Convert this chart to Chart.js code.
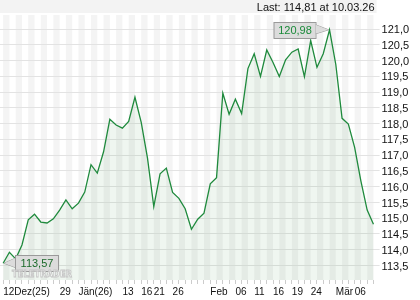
<!DOCTYPE html>
<html><head><meta charset="utf-8">
<script src="https://cdn.jsdelivr.net/npm/chart.js@4.4.1/dist/chart.umd.min.js"></script>
<style>html,body{margin:0;padding:0;background:#fff;}#wrap{width:420px;height:300px;}</style>
</head><body><div id="wrap"><canvas id="c" width="420" height="300"></canvas></div>
<script>
const values = [113.57,113.92,113.71,114.15,114.95,115.13,114.88,114.85,114.98,115.26,
115.58,115.30,115.48,115.83,116.70,116.43,117.11,118.14,117.96,117.86,
118.07,118.84,118.04,116.91,115.37,116.41,116.59,115.82,115.63,115.30,
114.65,114.97,115.16,116.09,116.29,118.97,118.30,118.78,118.32,119.75,
120.22,119.50,120.34,119.94,119.50,120.03,120.27,120.37,119.49,120.64,
119.79,120.22,120.98,119.88,118.17,117.99,117.25,116.18,115.26,114.81];
const xTickIdx = [0,9,12,19,22,24,27,33,37,40,43,46,49,53,56];
const xTickText = ['12Dez(25)','29','Jän(26)','13','16','21','26','Feb','06','11','16','19','24','Mär','06'];
const yTicks = [113.5,114.0,114.5,115.0,115.5,116.0,116.5,117.0,117.5,118.0,118.5,119.0,119.5,120.0,120.5,121.0];
const yMin = 113.04, yMax = 121.45;
const lastDate = '10.03.26';

const categories = values.map((_, i) => { const k = xTickIdx.indexOf(i); return k >= 0 ? xTickText[k] : ''; });
const fmt2 = v => v.toFixed(2).replace('.', ',');
const FONT = '"Liberation Sans", Arial, sans-serif';

function drawBox(ctx, x, y, w, h, tri) {
  ctx.fillStyle = '#dcdcdc'; ctx.strokeStyle = '#9a9a9a'; ctx.lineWidth = 1;
  ctx.beginPath(); ctx.moveTo(tri[0][0], tri[0][1]); ctx.lineTo(tri[1][0], tri[1][1]); ctx.lineTo(tri[2][0], tri[2][1]); ctx.closePath();
  ctx.fill(); ctx.stroke();
  ctx.fillRect(x, y, w, h); ctx.strokeRect(x + 0.5, y + 0.5, w, h);
  ctx.beginPath(); ctx.moveTo(tri[0][0], tri[0][1]); ctx.lineTo(tri[1][0], tri[1][1]); ctx.lineTo(tri[2][0], tri[2][1]); ctx.closePath(); ctx.fill();
}

const deco = {
  id: 'deco',
  beforeDraw(chart) {
    const { ctx, chartArea: a, scales: { x } } = chart;
    ctx.save();
    ctx.fillStyle = '#f3f3f3';
    ctx.fillRect(0, 0, a.right, 13);
    ctx.fillStyle = '#f4f4f4';
    for (let i = 0; i < values.length; i += 2) {
      const x0 = x.getPixelForValue(i), x1 = x.getPixelForValue(i + 1);
      ctx.fillRect(x0, a.top, Math.min(x1, a.right) - x0, a.bottom - a.top);
    }
    ctx.fillStyle = '#111';
    ctx.font = '11px ' + FONT;
    ctx.textAlign = 'right'; ctx.textBaseline = 'alphabetic';
    ctx.fillText('Last: ' + fmt2(values[values.length - 1]) + ' at ' + lastDate, a.right - 2, 11);
    ctx.restore();
  },
  afterDatasetsDraw(chart) {
    const { ctx, scales: { x, y } } = chart;
    ctx.save();
    let iMax = 0, iMin = 0;
    values.forEach((v, i) => { if (v > values[iMax]) iMax = i; if (v < values[iMin]) iMin = i; });
    let px = x.getPixelForValue(iMax), py = y.getPixelForValue(values[iMax]);
    let bw = 42, bh = 16, bx = px - 14 - bw, by = Math.round(py - 8);
    drawBox(ctx, bx, by, bw, bh, [[bx + bw, py - 5], [px - 1, py], [bx + bw, py + 4]]);
    ctx.fillStyle = '#1b8a3a'; ctx.font = '11px ' + FONT; ctx.textAlign = 'center'; ctx.textBaseline = 'middle';
    ctx.fillText(fmt2(values[iMax]), bx + bw / 2 + 0.5, by + bh / 2 + 1);
    px = x.getPixelForValue(iMin); py = y.getPixelForValue(values[iMin]);
    bx = Math.round(px + 12); by = Math.round(py - 8);
    drawBox(ctx, bx, by, 43, 16, [[bx, py - 5], [px + 1, py], [bx, py + 4]]);
    ctx.fillStyle = '#1b6a2a';
    ctx.fillText(fmt2(values[iMin]), bx + 43 / 2 + 0.5, by + 8 + 1);
    ctx.font = 'bold 9px "DejaVu Sans", sans-serif';
    ctx.textAlign = 'left'; ctx.textBaseline = 'alphabetic';
    const wm = 'TELETRADER';
    const w = ctx.measureText(wm).width;
    ctx.translate(12, 277); ctx.scale(60 / w, 1.05);
    ctx.fillStyle = 'rgba(255,255,255,0.6)';
    ctx.fillText(wm, 0, 0);
    ctx.strokeStyle = '#c4c4c4'; ctx.lineWidth = 0.8;
    ctx.strokeText(wm, 0, 0);
    ctx.restore();
  }
};

new Chart(document.getElementById('c'), {
  type: 'line',
  data: {
    labels: categories,
    datasets: [{
      data: values,
      borderColor: '#1f8a3d',
      borderWidth: 1.3,
      backgroundColor: 'rgba(40,140,60,0.075)',
      fill: 'start',
      pointRadius: 0,
      tension: 0
    }]
  },
  options: {
    responsive: false, animation: false, devicePixelRatio: 1,
    layout: { padding: { top: 15, left: 0, right: 0, bottom: 0 } },
    plugins: { legend: { display: false }, tooltip: { enabled: false }, title: { display: false } },
    scales: {
      x: {
        type: 'category', offset: true,
        grid: { display: true, drawOnChartArea: false, drawTicks: true, tickLength: 4, color: '#cccccc', offset: false },
        border: { display: false },
        ticks: { autoSkip: false, maxRotation: 0, minRotation: 0, align: 'start', padding: 2,
          font: { family: FONT, size: 10 }, color: '#111' },
        afterFit(s) { s.height = 20; }
      },
      y: {
        position: 'right', min: yMin, max: yMax,
        afterBuildTicks(s) { s.ticks = yTicks.map(v => ({ value: v })); },
        grid: { color: '#e3e3e3', tickLength: 3 },
        border: { display: false },
        ticks: { padding: 2, labelOffset: 1, callback: v => Number(v).toFixed(1).replace('.', ','),
          font: { family: FONT, size: 11 }, color: '#111' },
        afterFit(s) { s.width = 43.4; }
      }
    }
  },
  plugins: [deco]
});
</script></body></html>
